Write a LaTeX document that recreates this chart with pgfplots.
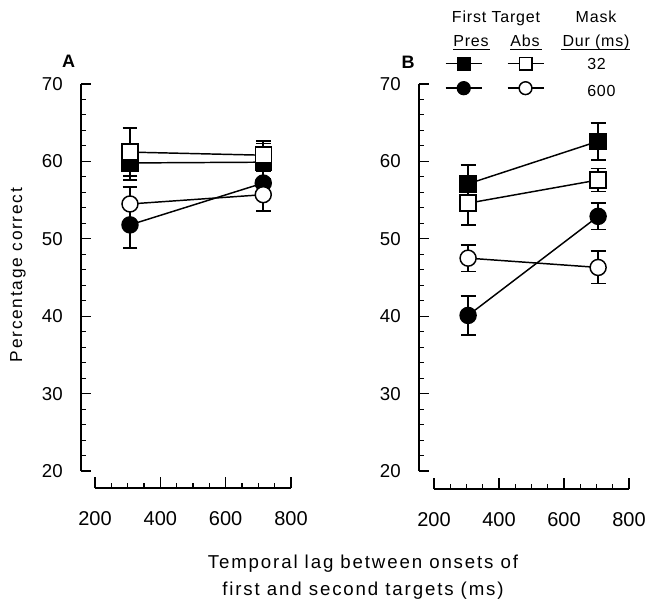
\documentclass[border=0pt]{standalone}
\usepackage{fontspec}
\setmainfont{Liberation Sans}
\newfontfamily\trkten{Liberation Sans}[LetterSpace=10]
\newfontfamily\trkfive{Liberation Sans}[LetterSpace=5]
\usepackage{pgfplots}
\pgfplotsset{compat=1.18}

% 1px of the reference = 0.75pt
\pgfplotsset{
  yax/.style={scale only axis, width=157.5pt, height=290.25pt,
    ymin=20, ymax=70, hide x axis, axis y line*=left,
    ytick={20,30,...,70}, minor y tick num=4, tick align=inside,
    major tick length=7.5pt, minor tick length=3.75pt,
    axis line style={line width=1.1pt},
    every tick/.style={line width=0.8pt, black},
    yticklabel style={anchor=east, inner sep=0pt, xshift=-13.5pt,
      font=\fontsize{14}{16}\selectfont},
    /pgf/number format/assume math mode=true,
    clip=false, anchor=south west},
  xax/.style={scale only axis, height=20pt, ymin=0, ymax=1,
    xmin=200, xmax=800, hide y axis, axis x line*=bottom,
    xtick={200,400,600,800}, minor x tick num=3, tick align=inside,
    major tick length=8.25pt, minor tick length=3.75pt,
    axis line style={line width=1.1pt},
    every tick/.style={line width=0.8pt, black},
    xticklabel style={anchor=north, inner sep=0pt, yshift=-17.25pt,
      font=\fontsize{15}{17}\selectfont},
    /pgf/number format/assume math mode=true,
    anchor=south west},
  ebar/.style={error bars/y dir=both, error bars/y explicit,
    error bars/error bar style={line width=1.2pt},
    error bars/error mark options={rotate=90, mark size=5.6pt, line width=1.2pt}},
  fsq/.style={line width=1.1pt, black, mark=square*, mark size=6pt, mark options={fill=black}},
  osq/.style={line width=1.1pt, black, mark=square*, mark size=6pt, mark options={fill=white}},
  fci/.style={line width=1.1pt, black, mark=*, mark size=6pt, mark options={fill=black}},
  oci/.style={line width=1.1pt, black, mark=*, mark size=6pt, mark options={fill=white}},
}

\begin{document}
\begin{tikzpicture}
\useasboundingbox (0,0) rectangle (486.75pt,-456.75pt);

% ---- panel A
\begin{axis}[yax, at={(60.75pt,-353.25pt)}, xmin=157, xmax=800]
\addplot[fsq, ebar] coordinates {(307,59.8) +- (0,2.2) (715,59.9) +- (0,2.4)};
\addplot[fci, ebar] coordinates {(307,51.8) +- (0,3.0) (715,57.2) +- (0,1.5)};
\addplot[osq, ebar] coordinates {(307,61.2) +- (0,3.1) (715,60.8) +- (0,1.8)};
\addplot[oci, ebar] coordinates {(307,54.5) +- (0,2.2) (715,55.7) +- (0,2.1)};
\end{axis}
\begin{axis}[xax, at={(71.25pt,-366pt)}, width=147pt]
\end{axis}

% ---- panel B
\begin{axis}[yax, at={(314.25pt,-353.25pt)}, xmin=154, xmax=800,
  legend columns=2,
  legend image code/.code={\draw[mark repeat=2,mark phase=2]
    plot coordinates {(0pt,0pt) (13.5pt,0pt) (27pt,0pt)};},
  legend style={at={(0.1238,1.0207)}, anchor=west, draw=none, fill=none,
    inner sep=0pt, outer sep=0pt, row sep=8.9pt, column sep=0pt,
    nodes={inner sep=0pt},
    /tikz/every even column/.append style={column sep=17.25pt}}]
\addplot[fsq, ebar, forget plot] coordinates {(305,57.1) +- (0,2.4) (705,62.6) +- (0,2.4)};
\addplot[fci, ebar, forget plot] coordinates {(305,40.1) +- (0,2.5) (705,52.9) +- (0,1.7)};
\addplot[osq, ebar, forget plot] coordinates {(305,54.6) +- (0,2.8) (705,57.6) +- (0,1.5)};
\addplot[oci, ebar, forget plot] coordinates {(305,47.5) +- (0,1.7) (705,46.3) +- (0,2.1)};
\addlegendimage{line width=1.1pt, black, mark=square*, mark size=4.7pt, mark options={fill=black}}
\addlegendentry{}
\addlegendimage{line width=1.1pt, black, mark=square*, mark size=4.7pt, mark options={fill=white}}
\addlegendentry{}
\addlegendimage{line width=1.1pt, black, mark=*, mark size=4.8pt, mark options={fill=black}}
\addlegendentry{}
\addlegendimage{line width=1.1pt, black, mark=*, mark size=4.8pt, mark options={fill=white}}
\addlegendentry{}
\end{axis}
\begin{axis}[xax, at={(325.5pt,-366.75pt)}, width=146.25pt]
\end{axis}

% ---- labels
\node[font=\bfseries\fontsize{13.5}{15}\selectfont] at (51.4pt,-46.1pt) {A};
\node[font=\bfseries\fontsize{13.5}{15}\selectfont] at (306pt,-46.5pt) {B};
\node[rotate=90, font=\trkten\fontsize{13}{15}\selectfont] at (13.5pt,-206.25pt) {Percentage correct};
\node[anchor=base, font=\trkten\fontsize{14}{16}\selectfont] at (272.25pt,-426pt) {Temporal lag between onsets of};
\node[anchor=base, font=\trkten\fontsize{14}{16}\selectfont] at (272.25pt,-446.25pt) {first and second targets (ms)};

% ---- legend header
\begin{scope}[every node/.style={font=\trkfive\fontsize{12}{14}\selectfont, inner sep=0pt}]
\node[anchor=base] at (372pt,-17.25pt) {First Target};
\node[anchor=base] at (447pt,-17.25pt) {Mask};
\node[anchor=base] at (353.25pt,-35.25pt) {Pres};
\node[anchor=base] at (393.75pt,-35.25pt) {Abs};
\node[anchor=base] at (447pt,-35.25pt) {Dur (ms)};
\node[anchor=base west] at (440.25pt,-52.5pt) {32};
\node[anchor=base west] at (440.25pt,-72.75pt) {600};
\end{scope}
\draw[line width=0.75pt] (339.75pt,-37.5pt) -- (367.5pt,-37.5pt);
\draw[line width=0.75pt] (382.5pt,-37.5pt) -- (406.5pt,-37.5pt);
\draw[line width=0.75pt] (420.75pt,-37.5pt) -- (472.5pt,-37.5pt);
\end{tikzpicture}
\end{document}
